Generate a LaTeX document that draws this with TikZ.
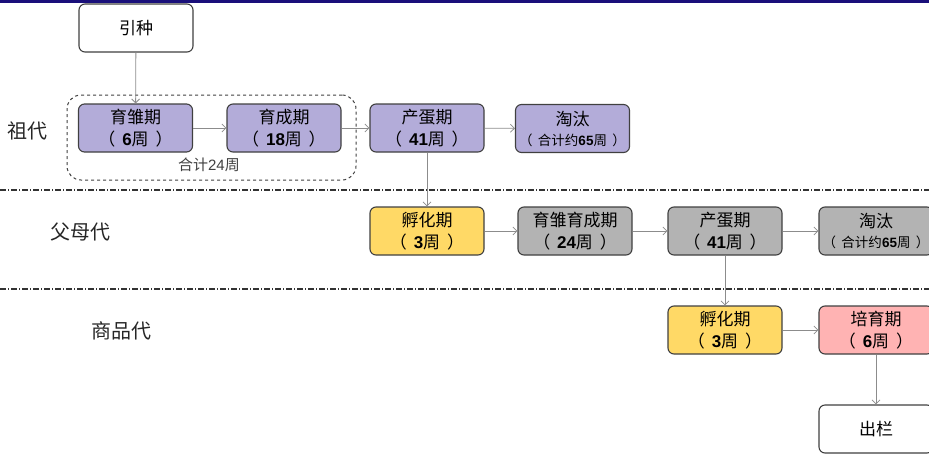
\documentclass[tikz,border=0pt]{standalone}
\usepackage{fontspec}
\setmainfont{Noto Sans CJK SC}
\newfontfamily\numfont{Liberation Sans}
\usetikzlibrary{arrows.meta}

\definecolor{topblue}{HTML}{1A0F7A}
\definecolor{boxline}{HTML}{404040}
\definecolor{flowgray}{HTML}{8C8C8C}
\definecolor{grandfill}{HTML}{B3ACD9}
\definecolor{hatchfill}{HTML}{FFD966}
\definecolor{parentfill}{HTML}{B3B3B3}
\definecolor{rearfill}{HTML}{FFB3B3}
\newcommand{\wk}[1]{{\numfont\bfseries #1}}
\newcommand{\lpar}{（\hspace{0.4em}}
\newcommand{\rpar}{\hspace{0.4em}）}

\begin{document}
\begin{tikzpicture}[x=1pt,y=1pt,
		stage/.style={draw=boxline, line width=1.1pt, rounded corners=6pt, minimum width=114pt, minimum height=48pt, inner sep=0pt, align=center, text=black, font=\fontsize{17}{22}\selectfont},
		flow/.style={draw=flowgray, line width=0.8pt, -{Straight Barb[length=4pt,width=8pt]}},
		sepline/.style={draw=black!80, line width=1.4pt, dash pattern=on 6pt off 2pt on 1pt off 2pt},
		rowlabel/.style={font=\fontsize{20}{22}\selectfont, text=black!85},
		small/.style={font=\fontsize{13}{16}\selectfont}]
		\useasboundingbox (0,0) rectangle (929,-453);
		\fill [topblue] (0,0) rectangle (929,-2.5);
		% separators
		\draw [sepline] (0,-190) -- (929,-190);
		\draw [sepline] (0,-289) -- (929,-289);
		% row labels
		\node [rowlabel] (lgrand) at (28,-131) {祖代};
		\node [rowlabel] (lparent) at (80,-232) {父母代};
		\node [rowlabel] (lcomm) at (121,-331) {商品代};
		% grandparent row
		\node [stage, fill=white] (intro) at (136,-28) {引种};
		\node [draw=black!75, line width=1pt, dashed, rounded corners=14pt, minimum width=289pt, minimum height=85pt] (grp) at (211.5,-137.5) {};
		\node [font=\fontsize{15}{16}\selectfont, text=black!75] (grptot) at (209,-165) {合计{\numfont 24}周};
		\node [stage, fill=grandfill] (g1) at (135.5,-128) {育雏期\\\lpar\wk{6}周\rpar};
		\node [stage, fill=grandfill] (g2) at (284,-128) {育成期\\\lpar\wk{18}周\rpar};
		\node [stage, fill=grandfill] (g3) at (427,-128) {产蛋期\\\lpar\wk{41}周\rpar};
		\node [stage, fill=grandfill] (g4) at (572.5,-128.5) {淘汰\\[-2pt]{\fontsize{13.5}{16}\selectfont\lpar 合计约\wk{65}周\rpar}};
		% parent row
		\node [stage, fill=hatchfill] (p1) at (427,-231) {孵化期\\\lpar\wk{3}周\rpar};
		\node [stage, fill=parentfill] (p2) at (575,-231) {育雏育成期\\\lpar\wk{24}周\rpar};
		\node [stage, fill=parentfill] (p3) at (725,-231) {产蛋期\\\lpar\wk{41}周\rpar};
		\node [stage, fill=parentfill] (p4) at (876,-231) {淘汰\\[-2pt]{\fontsize{13.5}{16}\selectfont\lpar 合计约\wk{65}周\rpar}};
		% commercial row
		\node [stage, fill=hatchfill] (c1) at (725,-330) {孵化期\\\lpar\wk{3}周\rpar};
		\node [stage, fill=rearfill] (c2) at (876,-330) {培育期\\\lpar\wk{6}周\rpar};
		\node [stage, fill=white] (out) at (876,-429) {出栏};
		% connectors
		\draw [flow] (intro) -- (g1);
		\draw [flow] (g1) -- (g2);
		\draw [flow] (g2) -- (g3);
		\draw [flow] (g3) -- (g4);
		\draw [flow] (g3) -- (p1);
		\draw [flow] (p1) -- (p2);
		\draw [flow] (p2) -- (p3);
		\draw [flow] (p3) -- (p4);
		\draw [flow] (p3) -- (c1);
		\draw [flow] (c1) -- (c2);
		\draw [flow] (c2) -- (out);
	\end{tikzpicture}
\end{document}
